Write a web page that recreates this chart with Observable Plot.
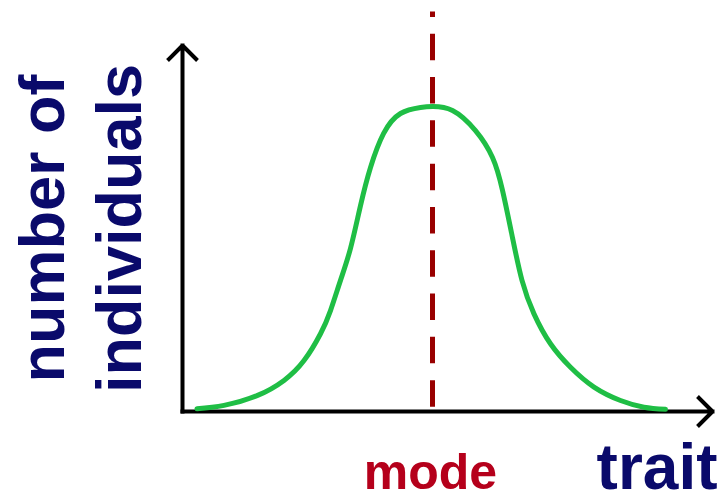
<!DOCTYPE html>
<html>
<head>
<meta charset="utf-8">
<script src="https://cdn.jsdelivr.net/npm/d3@7"></script>
<script src="https://cdn.jsdelivr.net/npm/@observablehq/plot@0.6"></script>
<style>
  html, body { margin: 0; padding: 0; background: #fff; }
  #chart svg { display: block; }
</style>
</head>
<body>
<div id="chart"></div>
<script>
// Distribution of a trait in a population: trait value vs. number of individuals
const trait       = [2.9, 8.3, 14.9, 20.3, 24.3, 27.6, 29.6, 31.6, 33.6, 35.6, 37.6, 40.2, 43.6, 47.6, 50, 54, 58.6, 62, 64, 66, 67.9, 70.3, 73.6, 77.6, 82.3, 87.6, 92.3, 96.6];
const individuals = [0.9, 2.0, 5.2, 10.2, 16.7, 25.5, 33.1, 43.0, 53.5, 67.5, 80, 91.1, 97.7, 99.7, 100, 98.7, 92.1, 83.3, 72.5, 57, 43.0, 32.0, 22.2, 14.5, 8.0, 3.6, 1.4, 0.7];
const mode = 50;
const xLabel = "trait";
const yLabel = ["number of", "individuals"];
const modeLabel = "mode";

const curve = trait.map((t, i) => ({trait: t, n: individuals[i]}));
const xMax = 106, yMax = 120;
const axes = [
  {x1: 0, y1: 0, x2: xMax, y2: 0},
  {x1: 0, y1: 0, x2: 0, y2: yMax}
];

const navy = "#0a0a6b";
const font = "'Liberation Sans', Arial, sans-serif";

const chart = Plot.plot({
  width: 718,
  height: 493,
  marginLeft: 182,
  marginRight: 6,
  marginTop: 45,
  marginBottom: 82,
  style: {background: "#fff", fontFamily: font},
  x: {domain: [0, xMax], axis: null},
  y: {domain: [0, yMax], axis: null},
  marks: [
    // axes with arrowheads
    Plot.arrow(axes, {
      x1: "x1", y1: "y1", x2: "x2", y2: "y2",
      stroke: "#000", strokeWidth: 4, headAngle: 90, headLength: 7.2,
      strokeLinecap: "square", strokeLinejoin: "miter"
    }),
    // dashed line at the mode
    Plot.ruleX([mode], {
      y1: 131, y2: 0,
      stroke: "#990000", strokeWidth: 5,
      strokeDasharray: "26.5,16.8", strokeDashoffset: 21
    }),
    // distribution curve
    Plot.line(curve, {
      x: "trait", y: "n", curve: "natural",
      stroke: "#1fbe45", strokeWidth: 5, strokeLinecap: "round"
    }),
    // labels
    Plot.text([modeLabel], {
      x: mode, y: 0, text: d => d, dx: -2, dy: 77, lineAnchor: "bottom",
      textAnchor: "middle", fill: "#b5001b", fontSize: 50, fontWeight: "bold"
    }),
    Plot.text([xLabel], {
      x: xMax, y: 0, text: d => d, dx: 5, dy: 77, lineAnchor: "bottom",
      textAnchor: "end", fill: navy, fontSize: 64, fontWeight: "bold"
    }),
    Plot.text([yLabel[0]], {
      x: 0, y: yMax / 2, text: d => d, dx: -119, rotate: -90, lineAnchor: "bottom",
      textAnchor: "middle", fill: navy, fontSize: 63, fontWeight: "bold"
    }),
    Plot.text([yLabel[1]], {
      x: 0, y: yMax / 2, text: d => d, dx: -42, rotate: -90, lineAnchor: "bottom",
      textAnchor: "middle", fill: navy, fontSize: 63, fontWeight: "bold"
    })
  ]
});

document.getElementById("chart").appendChild(chart);
</script>
</body>
</html>
